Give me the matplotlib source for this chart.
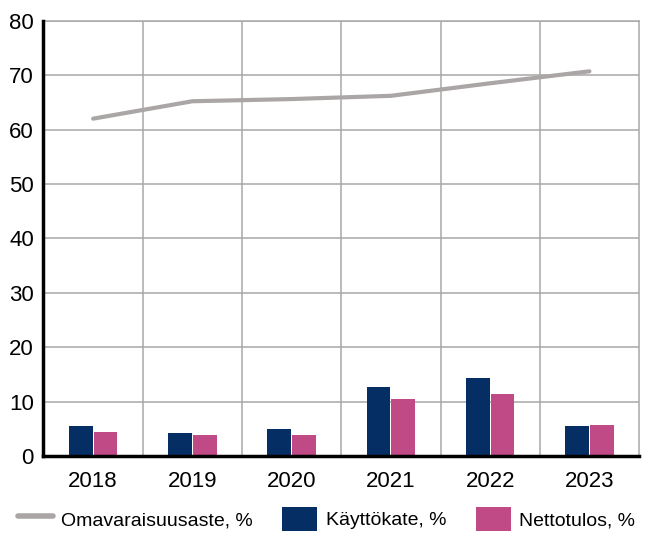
import numpy as np
import matplotlib
matplotlib.use("Agg")
import matplotlib.pyplot as plt
from matplotlib.lines import Line2D
from matplotlib.patches import Patch

plt.rcParams['font.family'] = ['Liberation Sans', 'DejaVu Sans']

years = ['2018', '2019', '2020', '2021', '2022', '2023']
omavaraisuusaste = [62.0, 65.2, 65.6, 66.2, 68.5, 70.7]
kayttokate = [5.6, 4.2, 4.9, 12.7, 14.3, 5.6]
nettotulos = [4.5, 3.8, 3.8, 10.5, 11.5, 5.8]

navy = '#052e65'
pink = '#c04a86'
grey_line = '#aaa6a6'
grid_col = '#a8a8a8'

fig = plt.figure(figsize=(6.53, 5.36), dpi=100)
ax = fig.add_axes([0.0666, 0.149, 0.912, 0.8124])

x = np.arange(len(years))
w = 0.24
ax.bar(x - 0.125, kayttokate, width=w, color=navy, zorder=3)
ax.bar(x + 0.125, nettotulos, width=w, color=pink, zorder=3)
ax.plot(x, omavaraisuusaste, color=grey_line, lw=3, solid_capstyle='round', zorder=4)

ax.set_xlim(-0.5, 5.5)
ax.set_ylim(0, 80)
ax.set_yticks(range(0, 81, 10))
ax.set_xticks(x)
ax.set_xticklabels(years)
ax.set_xticks(np.arange(0.5, 5.5, 1), minor=True)
ax.grid(axis='y', color=grid_col, lw=1.1, zorder=0)
ax.grid(axis='x', which='minor', color=grid_col, lw=1.1, zorder=0)
ax.grid(axis='x', which='major', visible=False)
ax.tick_params(axis='both', which='both', length=0, labelsize=16)
ax.tick_params(axis='x', pad=11)
ax.tick_params(axis='y', pad=7)

for s in ['top', 'right']:
    ax.spines[s].set_color(grid_col)
    ax.spines[s].set_linewidth(1.1)
for s in ['left', 'bottom']:
    ax.spines[s].set_color('black')
    ax.spines[s].set_linewidth(2.5)
    ax.spines[s].set_zorder(5)

handles = [
    Line2D([0], [0], color=grey_line, lw=4, solid_capstyle='round'),
    Patch(facecolor=navy),
    Patch(facecolor=pink),
]
labels = ['Omavaraisuusaste, %', 'Käyttökate, %', 'Nettotulos, %']
fig.legend(handles, labels, loc='center', ncol=3, frameon=False,
           fontsize=14, bbox_to_anchor=(0.5, 0.032), handlelength=1.8,
           handleheight=1.5, handletextpad=0.45, columnspacing=1.5,
           borderpad=0, borderaxespad=0)

fig.savefig('out.png', dpi=100)
